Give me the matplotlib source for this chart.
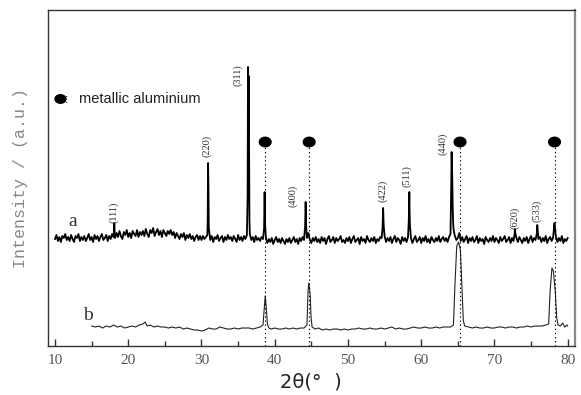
import matplotlib
matplotlib.use("Agg")
import numpy as np
import matplotlib.pyplot as plt
from matplotlib.patches import Ellipse

# ---- data (intensity in arbitrary units) ----
# pattern a: scan 10-80 deg, 0.2 deg step
a_start, a_stop, a_step = 10.0, 80.0, 0.2
a_grid_int = [
    107, 111, 105, 109, 104, 110, 108, 112, 106, 109, 105, 111, 107, 104, 110, 108, 112, 105, 109, 106,   # 10.0-13.8
    110, 105, 108, 112, 106, 109, 104, 111, 107, 110, 105, 109, 112, 106, 108, 111, 105, 110, 107, 112,   # 14.0-17.8
    109, 108, 113, 109, 115, 110, 107, 114, 111, 116, 109, 113, 108, 115, 112, 110, 116, 109, 114, 111,   # 18.0-21.8
    115, 110, 117, 112, 109, 116, 113, 118, 110, 114, 117, 111, 115, 109, 116, 113, 110, 115, 112, 116,   # 22.0-25.8
    111, 114, 108, 113, 110, 107, 112, 109, 113, 106, 111, 108, 112, 107, 110, 105, 109, 111, 106, 110,   # 26.0-29.8
    106, 110, 107, 109, 111, 118, 106, 110, 104, 109, 107, 111, 105, 108, 110, 104, 109, 106, 111, 107,   # 30.0-33.8
    109, 105, 110, 107, 104, 111, 106, 109, 105, 110, 107, 111, 210, 112, 106, 109, 104, 110, 106, 108,   # 34.0-37.8
    105, 109, 107, 140, 108, 103, 107, 104, 108, 102, 106, 109, 104, 107, 103, 108, 105, 102, 107, 104,   # 38.0-41.8
    108, 103, 106, 109, 104, 107, 102, 108, 105, 109, 106, 138, 108, 113, 106, 103, 108, 105, 109, 104,   # 42.0-45.8
    107, 103, 109, 105, 108, 102, 107, 110, 104, 106, 109, 103, 108, 105, 107, 110, 104, 106, 103, 108,   # 46.0-49.8
    105, 109, 103, 107, 110, 104, 106, 108, 102, 109, 105, 107, 103, 110, 106, 104, 108, 105, 109, 103,   # 50.0-53.8
    107, 105, 109, 108, 138, 110, 104, 108, 105, 109, 103, 107, 110, 104, 108, 106, 102, 109, 105, 108,   # 54.0-57.8
    104, 109, 140, 108, 103, 107, 110, 104, 106, 109, 103, 108, 105, 110, 104, 107, 103, 109, 106, 104,   # 58.0-61.8
    108, 105, 110, 104, 107, 109, 105, 108, 104, 109, 112, 180, 118, 110, 106, 108, 113, 105, 109, 104,   # 62.0-65.8
    107, 110, 103, 108, 105, 109, 104, 106, 110, 103, 108, 105, 107, 102, 109, 106, 104, 108, 105, 110,   # 66.0-69.8
    104, 108, 106, 103, 109, 105, 107, 110, 104, 106, 109, 103, 108, 105, 117, 108, 104, 109, 106, 103,   # 70.0-73.8
    108, 105, 109, 103, 107, 110, 104, 108, 106, 113, 107, 109, 104, 108, 105, 110, 103, 107, 109, 105,   # 74.0-77.8
    108, 123, 109, 104, 108, 105, 110, 103, 107, 105, 108,                                                # 78.0-80.0
]
# extra points on the sharp reflections of pattern a (between scan steps)
a_peak_theta = [18.05, 18.1, 18.15,
                30.85, 30.9, 30.95, 31.05,
                36.3, 36.35, 36.45, 36.5, 36.55,
                38.55, 38.62, 38.68,
                44.15, 44.22, 44.3,
                54.72, 54.88,
                58.3, 58.38, 58.45,
                64.1, 64.15, 64.25, 64.3, 64.35, 64.45,
                72.75, 72.85,
                75.85, 75.9, 75.95,
                78.25, 78.3, 78.35]
a_peak_int = [114, 123, 111,
              125, 183, 160, 115,
              150, 279, 270, 190, 125,
              118, 154, 122,
              120, 144, 118,
              118, 120,
              125, 154, 122,
              160, 194, 165, 140, 125, 115,
              112, 113,
              121, 116, 110,
              115, 117, 112]

b_theta = [15.0, 15.5, 16.0, 16.5, 17.0, 17.5, 18.0, 18.5, 19.0, 19.5, 20.0, 20.5, 21.0, 21.5, 22.0, 22.3, 22.6, 23.0,
           23.5, 24.0, 24.5, 25.0, 25.5, 26.0, 26.5, 27.0, 27.5, 28.0, 28.5, 29.0, 29.5, 30.0, 30.5, 31.0, 31.5, 32.0,
           32.5, 33.0, 33.5, 34.0, 34.5, 35.0, 35.5, 36.0, 36.5, 37.0, 37.5, 38.0, 38.4,
           38.55, 38.7, 38.85, 39.0, 39.2,
           39.5, 40.0, 40.5, 41.0, 41.5, 42.0, 42.5, 43.0, 43.5, 44.0, 44.4,
           44.55, 44.65, 44.75, 44.85, 44.95, 45.1,
           45.5, 46.0, 46.5, 47.0, 47.5, 48.0, 48.5, 49.0, 49.5, 50.0, 50.5, 51.0, 51.5, 52.0, 52.5, 53.0, 53.5, 54.0,
           54.5, 55.0, 55.5, 56.0, 56.5, 57.0, 57.5, 58.0, 58.5, 59.0, 59.5, 60.0, 60.5, 61.0, 61.5, 62.0, 62.5, 63.0,
           63.5, 64.0, 64.4,
           64.6, 64.85, 65.1, 65.35, 65.55, 65.75, 65.95,
           66.5, 67.0, 67.5, 68.0, 68.5, 69.0, 69.5, 70.0, 70.5, 71.0, 71.5, 72.0, 72.5, 73.0, 73.5, 74.0, 74.5, 75.0,
           75.5, 76.0, 76.5, 77.0, 77.4,
           77.6, 77.85, 78.05, 78.3, 78.5, 78.7,
           79.0, 79.3, 79.6, 79.9, 80.0]
b_int = [20, 19, 20, 18, 20, 19, 21, 19, 20, 18, 19, 20, 19, 21, 22, 24, 20, 21,
         19, 20, 19, 19, 18, 19, 18, 19, 17, 18, 17, 16, 16, 15, 16, 18, 17, 17,
         19, 18, 17, 17, 18, 17, 18, 18, 18, 17, 18, 19, 21,
         35, 50, 38, 22, 18,
         17, 18, 17, 17, 18, 17, 18, 17, 18, 18, 21,
         55, 63, 58, 50, 30, 19,
         17, 18, 16, 17, 16, 17, 17, 16, 17, 16, 17, 17, 18, 17, 17, 18, 17, 17,
         18, 17, 18, 19, 17, 18, 17, 17, 18, 19, 18, 18, 19, 18, 18, 19, 18, 19,
         19, 19, 21,
         60, 100, 104, 96, 60, 25, 20,
         19, 18, 19, 18, 18, 19, 18, 18, 19, 19, 18, 19, 19, 18, 19, 19, 20, 19,
         20, 20, 20, 21, 22,
         55, 78, 75, 55, 28, 21,
         20, 23, 19, 21, 20]

al_positions = [38.7, 44.7, 65.3, 78.2]

hkl_labels = ["(111)", "(220)", "(311)", "(400)", "(422)", "(511)", "(440)", "(620)", "(533)"]
hkl_x = [18.06, 30.75, 34.9, 42.5, 54.8, 58.06, 62.98, 72.8, 75.8]
hkl_y = [134, 200, 271, 150, 155, 170, 202, 128, 135]

xticks = [10, 20, 30, 40, 50, 60, 70, 80]
minor_xticks = [15, 25, 35, 45, 55, 65, 75]

# ---- assemble pattern a (scan steps + extra peak points, sorted by angle) ----
a_grid_theta = np.round(np.arange(a_start, a_stop + a_step / 2, a_step), 2)
a_all = sorted(zip(list(a_grid_theta) + a_peak_theta, a_grid_int + a_peak_int))
a_theta = [p[0] for p in a_all]
a_int = [p[1] for p in a_all]

# ---- figure ----
fig = plt.figure(figsize=(5.81, 3.95), dpi=100)
ax = fig.add_axes([0.0818, 0.124, 0.9079, 0.8507])

ax.plot(a_theta, a_int, color="black", lw=1.3)
ax.plot(b_theta, b_int, color="#222222", lw=0.8)

marker_y = 204
for p in al_positions:
    ax.plot([p, p], [0, marker_y - 5], color="black", lw=0.8, ls=(0, (1.2, 2.5)))
    ax.add_patch(Ellipse((p, marker_y), 1.6, 9.5, color="black"))

# legend-like annotation
ax.add_patch(Ellipse((10.75, 247), 1.5, 8.5, color="black"))
ax.text(11.55, 246, ":", fontsize=9, va="center", ha="center", family="Liberation Sans")
ax.text(13.25, 247, "metallic aluminium", fontsize=10.5, va="center", ha="left",
        family="Liberation Sans", color="#222222")

for lab, lx, ly in zip(hkl_labels, hkl_x, hkl_y):
    ax.text(lx, ly, lab, rotation=90, fontsize=7.5, ha="center", va="center",
            family="Liberation Serif", color="#333333")

ax.text(12.46, 125, "a", fontsize=14, ha="center", va="center", family="Liberation Serif", color="#333333")
ax.text(14.5, 31, "b", fontsize=14, ha="center", va="center", family="Liberation Serif", color="#333333")

ax.set_xlim(8.98, 81.0)
ax.set_ylim(0, 336)
ax.set_yticks([])
ax.set_xticks(xticks)
ax.set_xticks(minor_xticks, minor=True)
ax.set_xticklabels([str(t) for t in xticks], family="Liberation Serif", fontsize=11, color="#555555")
ax.tick_params(axis="x", which="major", direction="in", length=5, width=1, pad=6, color="#333333")
ax.tick_params(axis="x", which="minor", direction="in", length=3.5, width=1, color="#333333")

for s in ["left", "top", "bottom"]:
    ax.spines[s].set_color("#333333")
    ax.spines[s].set_linewidth(1.0)
ax.spines["right"].set_color("#888888")
ax.spines["right"].set_linewidth(1.6)

ax.set_xlabel("2θ(°  )", fontsize=14, family="DejaVu Sans", color="#222222", labelpad=4)
ax.set_ylabel("Intensity / (a.u.)", fontsize=12, family="Liberation Mono", color="#888888", labelpad=14)

fig.savefig("out.png", dpi=100)
